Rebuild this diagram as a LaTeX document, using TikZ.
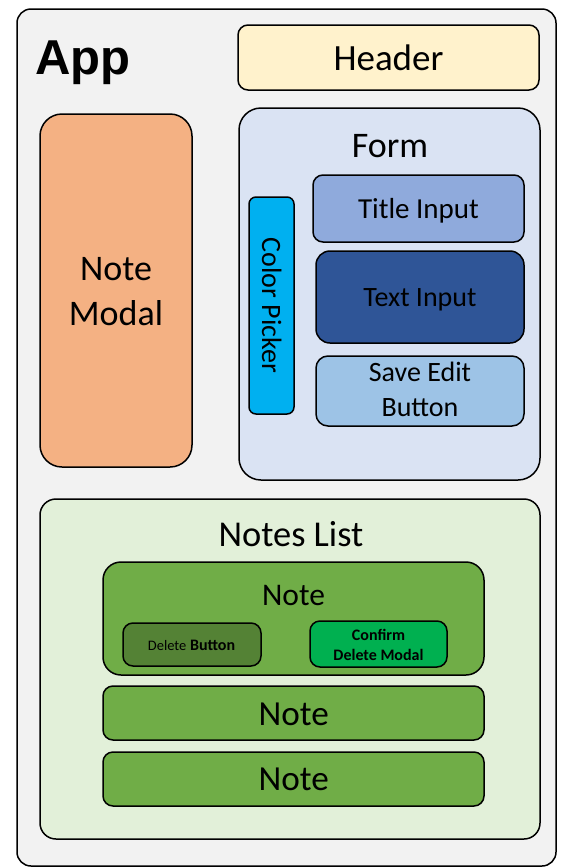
\documentclass[tikz,border=0pt]{standalone}
\usepackage{fontspec}
\setmainfont{Carlito}
\newfontfamily\appfont{Liberation Sans}
\usetikzlibrary{positioning}

\definecolor{appgray}{HTML}{F2F2F2}
\definecolor{headeryel}{HTML}{FFF2CC}
\definecolor{modalorange}{HTML}{F4B183}
\definecolor{formblue}{HTML}{DAE3F3}
\definecolor{pickercyan}{HTML}{00B0F0}
\definecolor{titleblue}{HTML}{8FAADC}
\definecolor{textblue}{HTML}{2F5597}
\definecolor{saveblue}{HTML}{9DC3E6}
\definecolor{listgreen}{HTML}{E2F0D9}
\definecolor{notegreen}{HTML}{70AD47}
\definecolor{delgreen}{HTML}{548235}
\definecolor{confgreen}{HTML}{00B050}

\tikzset{
  box/.style={draw,line width=1.5pt,rounded corners=#1,inner sep=0pt},
  box/.default=10pt,
  lbl/.style={anchor=base,inner sep=0pt,font=\fontsize{#1}{#1}\selectfont},
  lbl/.default=28
}

\begin{document}
\begin{tikzpicture}[x=1pt,y=-1pt]
\useasboundingbox (0,0) rectangle (560,868);
% outer app frame
\node[box=14pt,fill=appgray,minimum width=539pt,minimum height=857pt] (app) at (286.5,437.5) {};
\node[anchor=base west,inner sep=0pt,font=\appfont\bfseries\fontsize{49}{55}\selectfont] (apptxt) at (35,74) {App};
% header and modal
\node[box=10pt,fill=headeryel,minimum width=301pt,minimum height=65pt] (header) at (388.5,57.5) {};
\node[lbl=37] (headertxt) at (388.5,70) {Header};
\node[box=22pt,fill=modalorange,minimum width=152pt,minimum height=353pt] (modal) at (116,290.5) {};
\node[lbl=36] (modaltxt1) at (116,280) {Note};
\node[lbl=36] (modaltxt2) at (116,325) {Modal};
% form
\node[box=22pt,fill=formblue,minimum width=301pt,minimum height=372pt] (form) at (389.5,294) {};
\node[lbl=36] (formtxt) at (390,157) {Form};
\node[box=7pt,fill=pickercyan,minimum width=45pt,minimum height=217pt] (picker) at (271.5,305.5) {};
\node[lbl=28,rotate=-90] (pickertxt) at (262,305.5) {Color Picker};
\node[box=10pt,fill=titleblue,minimum width=211pt,minimum height=67pt] (title) at (418.5,208.5) {};
\node[lbl=29] (titletxt) at (418.5,218) {Title Input};
\node[box=14pt,fill=textblue,minimum width=208pt,minimum height=92pt] (text) at (420,297) {};
\node[lbl=28] (texttxt) at (420,306.5) {Text Input};
\node[box=12pt,fill=saveblue,minimum width=208pt,minimum height=70pt] (save) at (420,391) {};
\node[lbl=28] (savetxt1) at (420,381.5) {Save Edit};
\node[lbl=28] (savetxt2) at (420,416.5) {Button};
% notes list
\node[box=16pt,fill=listgreen,minimum width=500pt,minimum height=340pt] (list) at (290,669) {};
\node[lbl=36.4] (listtxt) at (291,546) {Notes List};
\node[box=18pt,fill=notegreen,minimum width=381pt,minimum height=113pt] (note1) at (293.5,618.5) {};
\node[lbl=31.5] (note1txt) at (293.5,605.5) {Note};
\node[box=10pt,fill=delgreen,minimum width=138pt,minimum height=43pt] (delete) at (192,644.5) {};
\node[lbl=16] (deletetxt) at (191.5,650.5) {{\fontsize{14.5}{17}\selectfont Delete} \textbf{Button}};
\node[box=10pt,fill=confgreen,minimum width=137pt,minimum height=46pt] (confirm) at (378.5,644) {};
\node[lbl=16,font=\bfseries\fontsize{16}{20}\selectfont] (confirmtxt1) at (378.5,640) {Confirm};
\node[lbl=16,font=\bfseries\fontsize{16}{20}\selectfont] (confirmtxt2) at (378.5,660) {Delete Modal};
\node[box=10pt,fill=notegreen,minimum width=381pt,minimum height=54pt] (note2) at (293.5,713) {};
\node[lbl=35.2] (note2txt) at (293.7,725) {Note};
\node[box=10pt,fill=notegreen,minimum width=381pt,minimum height=54pt] (note3) at (293.5,779) {};
\node[lbl=35.2] (note3txt) at (293.7,790.7) {Note};
\end{tikzpicture}
\end{document}
